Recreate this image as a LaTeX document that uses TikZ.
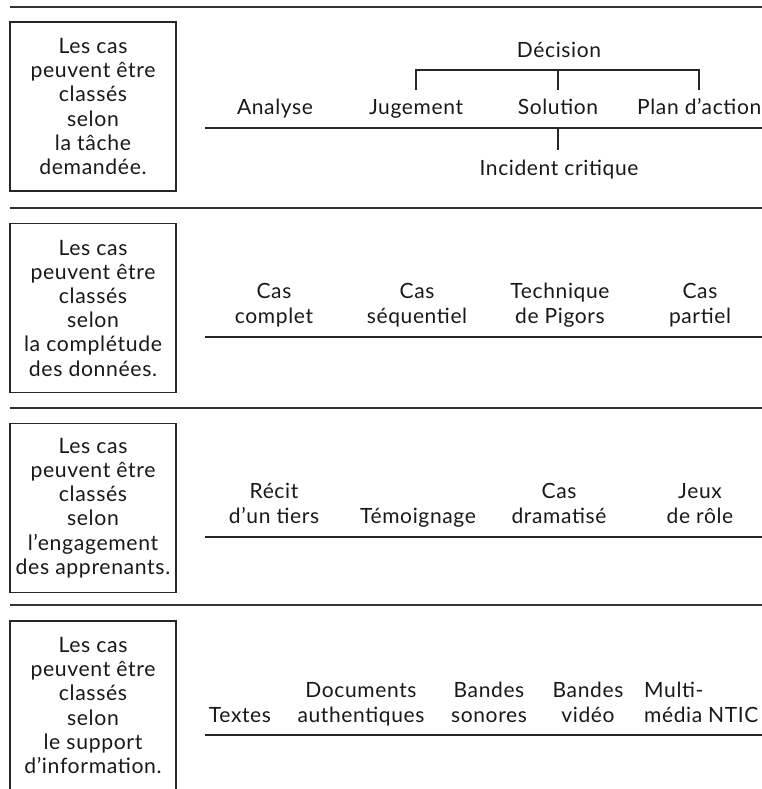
\documentclass[tikz,border=0pt]{standalone}
\usepackage{fontspec}
\setmainfont{Lato}[LetterSpace=3]
\newcommand\boxfont{\fontsize{21.2}{24.2}\selectfont}
\newcommand\labfont{\fontsize{21}{25}\selectfont}
\begin{document}
\begin{tikzpicture}[x=1pt,y=-1pt,
  sep/.style={line width=1.4pt, draw=black!80},
  rule/.style={line width=1.3pt, draw=black!85},
  tick/.style={line width=1.1pt, draw=black!85},
  box/.style={draw=black!85, line width=1.2pt, minimum width=166pt, minimum height=169pt,
              inner sep=0pt, align=center, font=\boxfont, text=black!90},
  lab/.style={anchor=base, inner sep=0pt, align=center, font=\labfont, text=black!90}]
\useasboundingbox (0,0) rectangle (762,789);
\clip (0,0) rectangle (762,789);
\fill[white] (0,0) rectangle (762,789);

% separators
\draw[sep] (10,7) -- (770,7);
\draw[sep] (10,208) -- (770,208);
\draw[sep] (10,408) -- (770,408);
\draw[sep] (10,605) -- (770,605);

% boxes
\node[box] (b1) at (93,106.5) {Les cas\\peuvent être\\classés\\selon\\la tâche\\demandée.};
\node[box] (b2) at (93,308) {Les cas\\peuvent être\\classés\\selon\\la complétude\\des données.};
\node[box] (b3) at (93,508) {Les cas\\peuvent être\\classés\\selon\\l'engagement\\des apprenants.};
\node[box] (b4) at (93,705.5) {Les cas\\peuvent être\\classés\\selon\\le support\\d'information.};

% row 1
\node[lab] (ana) at (275,115) {Analyse};
\node[lab] (jug) at (416,115) {Jugement};
\node[lab] (sol) at (558,115) {Solution};
\node[lab, anchor=base west] (pla) at (637,115) {Plan d'action};
\node[lab] (dec) at (559,58) {Décision};
\node[lab] (inc) at (559,175) {Incident critique};
\coordinate (bj) at (416,70);
\coordinate (bs) at (558,70);
\coordinate (bp) at (699,70);
\coordinate (tj) at (416,90);
\coordinate (ts) at (558,90);
\coordinate (tp) at (699,90);
\draw[tick] (tj) -- (bj) -- (bp) -- (tp);
\draw[tick] (bs) -- (ts);
\coordinate (r1a) at (205,128);
\coordinate (r1b) at (770,128);
\draw[rule] (r1a) -- (r1b);
\coordinate (ia) at (558,128);
\coordinate (ib) at (558,150);
\draw[tick] (ia) -- (ib);

% row 2
\node[lab] (c1) at (274,323) {Cas\\complet};
\node[lab] (c2) at (417,323) {Cas\\séquentiel};
\node[lab] (c3) at (560,323) {Technique\\de Pigors};
\node[lab] (c4) at (700,323) {Cas\\partiel};
\draw[rule] (205,337) -- (770,337);

% row 3
\node[lab] (e1) at (274,523) {Récit\\d'un tiers};
\node[lab] (e2) at (418,523) {Témoignage};
\node[lab] (e3) at (559,523) {Cas\\dramatisé};
\node[lab] (e4) at (700,523) {Jeux\\de rôle};
\draw[rule] (205,537) -- (770,537);

% row 4
\node[lab] (s1) at (240,722) {Textes};
\node[lab] (s2) at (361,722) {Documents\\authentiques};
\node[lab] (s3) at (489,722) {Bandes\\sonores};
\node[lab] (s4) at (588,722) {Bandes\\vidéo};
\node[lab, anchor=base west, align=left] (s5) at (644,722) {Multi-\\média};
\node[lab, anchor=base west] (s6) at (708,722) {NTIC};
\draw[rule] (205,735) -- (770,735);
\end{tikzpicture}
\end{document}
